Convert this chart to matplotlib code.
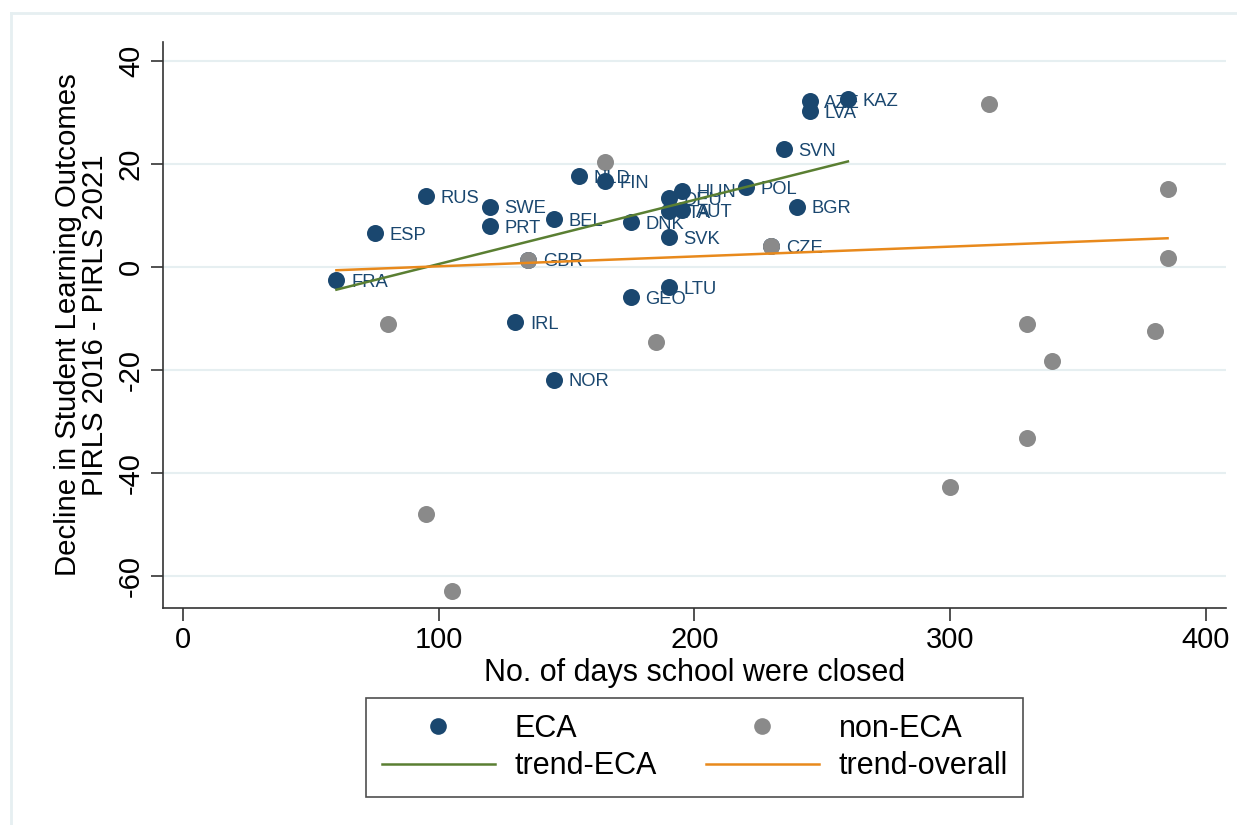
import numpy as np
import matplotlib
matplotlib.use("Agg")
import matplotlib.pyplot as plt
from matplotlib.lines import Line2D

plt.rcParams['font.family'] = ['Liberation Sans', 'DejaVu Sans']
plt.rcParams['axes.unicode_minus'] = False

# ECA countries: days closed, change in PIRLS score
eca_codes = ['FRA', 'ESP', 'RUS', 'SWE', 'PRT', 'BEL', 'NLD', 'FIN', 'DNK', 'SVK',
             'DEU', 'HUN', 'ITA', 'AUT', 'POL', 'BGR', 'SVN', 'AZE', 'LVA', 'KAZ',
             'LTU', 'GEO', 'IRL', 'NOR', 'CZE', 'GBR']
eca_days = [60, 75, 95, 120, 120, 145, 155, 165, 175, 190,
            190, 195, 190, 195, 220, 240, 235, 245, 245, 260,
            190, 175, 130, 145, 230, 135]
eca_decline = [-2.5, 6.6, 13.8, 11.7, 8.0, 9.3, 17.7, 16.7, 8.7, 5.8,
               13.4, 14.8, 10.9, 11.1, 15.5, 11.7, 22.9, 32.2, 30.3, 32.6,
               -3.9, -5.8, -10.7, -21.9, 4.1, 1.4]

# non-ECA countries
non_days = [165, 135, 80, 185, 95, 105, 315, 385, 385, 330, 340, 380, 330, 300, 230]
non_decline = [20.4, 1.4, -11.1, -14.6, -48.0, -62.9, 31.7, 15.1, 1.7, -11.1,
               -18.3, -12.4, -33.2, -42.7, 4.1]

# fitted trends: (intercept, slope, x from, x to)
trend_eca = (-11.85, 0.1245, 60, 260)
trend_all = (-1.75, 0.0191, 60, 385)

navy = '#1a476f'
grey = '#8a8a8a'
green = '#5a7f32'
orange = '#e8891c'

fig = plt.figure(figsize=(12.37, 8.25), dpi=100)
ax = fig.add_axes([0.1318, 0.263, 0.859, 0.686])

ax.scatter(eca_days, eca_decline, s=150, color=navy, zorder=3, linewidths=0)
ax.scatter(non_days, non_decline, s=150, color=grey, zorder=4, linewidths=0)
for code, xd, yd in zip(eca_codes, eca_days, eca_decline):
    ax.annotate(code, (xd, yd), xytext=(10.5, -1.5), textcoords='offset points',
                va='center', ha='left', fontsize=13.2, color=navy, zorder=5)

for (b0, b1, x0, x1), col in [(trend_eca, green), (trend_all, orange)]:
    xs = np.array([x0, x1])
    ax.plot(xs, b0 + b1 * xs, color=col, lw=1.8, zorder=6)

ax.set_xlim(-7.8, 407.7)
ax.set_ylim(-66.2, 43.7)
ax.set_xticks([0, 100, 200, 300, 400])
ax.set_yticks([-60, -40, -20, 0, 20, 40])
ax.tick_params(axis='both', direction='out', length=9, width=1.2, colors='#333333',
               labelcolor='black', labelsize=21, pad=4)
for lab in ax.get_yticklabels():
    lab.set_rotation(90)
    lab.set_va('center')
ax.grid(axis='y', color='#e6eff1', lw=1.5, zorder=0)
ax.set_axisbelow(True)
for side in ['top', 'right']:
    ax.spines[side].set_visible(False)
for side in ['left', 'bottom']:
    ax.spines[side].set_color('#333333')
    ax.spines[side].set_linewidth(1.2)

ax.set_xlabel('No. of days school were closed', fontsize=22, labelpad=3)
ax.set_ylabel('Decline in Student Learning Outcomes\nPIRLS 2016 - PIRLS 2021',
              fontsize=21.2, labelpad=6, linespacing=0.95)

# legend, filled column by column -> rows: ECA / non-ECA, trend-ECA / trend-overall
handles = [
    Line2D([], [], ls='none', marker='o', ms=12, color=navy, mew=0),
    Line2D([], [], color=green, lw=1.8),
    Line2D([], [], ls='none', marker='o', ms=12, color=grey, mew=0),
    Line2D([], [], color=orange, lw=1.8),
]
labels = ['ECA', 'trend-ECA', 'non-ECA', 'trend-overall']
leg = fig.legend(handles, labels, ncol=2, loc='center', bbox_to_anchor=(0.5618, 0.094),
                 fontsize=22, frameon=True, fancybox=False, edgecolor='#222222',
                 handlelength=3.7, columnspacing=1.6, handletextpad=0.65,
                 borderpad=0.5, labelspacing=0.25, borderaxespad=0)
leg.get_frame().set_linewidth(1.2)

# light outer frame of the graph region
fig.add_artist(Line2D([11 / 1237, 11 / 1237], [0, 1 - 13 / 825],
                      transform=fig.transFigure, color='#e6eff1', lw=2))
fig.add_artist(Line2D([11 / 1237, 1], [1 - 13 / 825, 1 - 13 / 825],
                      transform=fig.transFigure, color='#e6eff1', lw=2))

fig.savefig('out.png', dpi=100)
